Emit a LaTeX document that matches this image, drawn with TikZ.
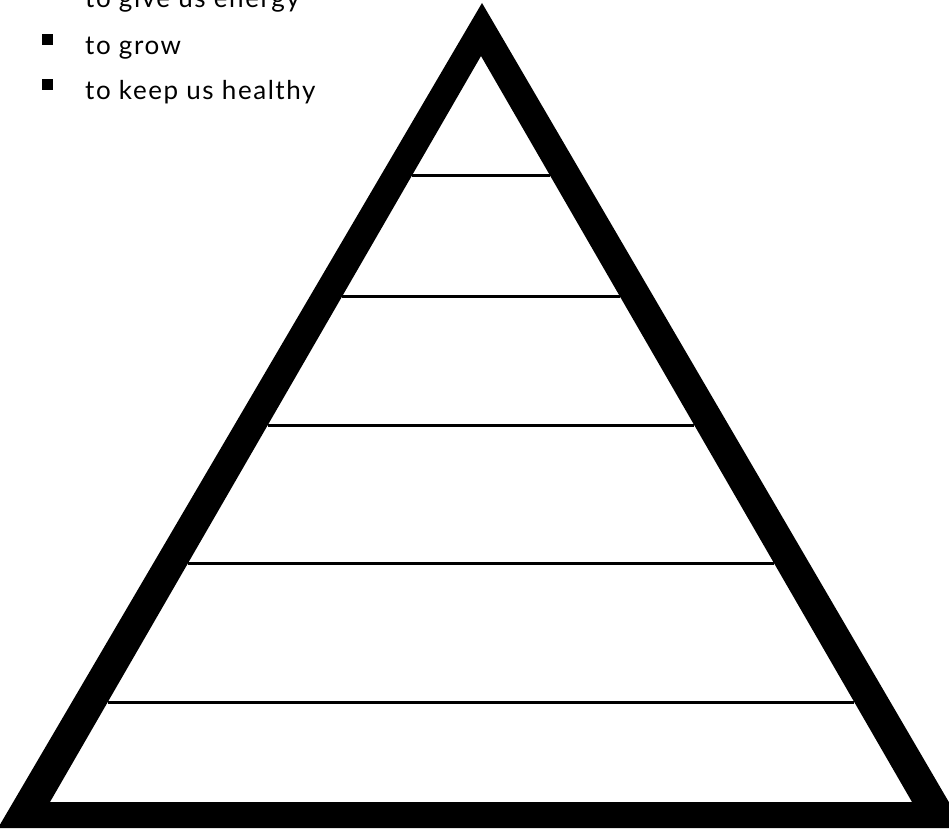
\documentclass[tikz,border=0pt]{standalone}
\usepackage{fontspec}
\newfontfamily\listfont[LetterSpace=6]{Lato}
\usepackage{tikz}

\begin{document}
\begin{tikzpicture}[x=1pt,y=-1pt,item/.style={anchor=base west,inner sep=0pt,font=\listfont\fontsize{26}{31}\selectfont},bullet/.style={fill=black,inner sep=0pt,minimum size=11pt},tier/.style={black,line width=3pt}]
	\useasboundingbox (0,0) rectangle (949,829);
	\clip (0,0) rectangle (949,829);
	\fill[even odd rule] (482,3) -- (-2,828) -- (964,828) -- cycle (481,56) -- (50,802) -- (912,802) -- cycle;
	\foreach \y in {175,296,425,563,702} \draw[tier] ({481-(\y-56)*0.5777},\y) -- ({481+(\y-56)*0.5777},\y);
	\node[item] (energy) at (85,8) {to give us energy};
	\node[item] (grow) at (85,55) {to grow};
	\node[item] (healthy) at (85,100) {to keep us healthy};
	\foreach \n in {energy,grow,healthy} \node[bullet] (b\n) at ([xshift=-38pt,yshift=15pt]\n.base west) {};
\end{tikzpicture}
\end{document}
